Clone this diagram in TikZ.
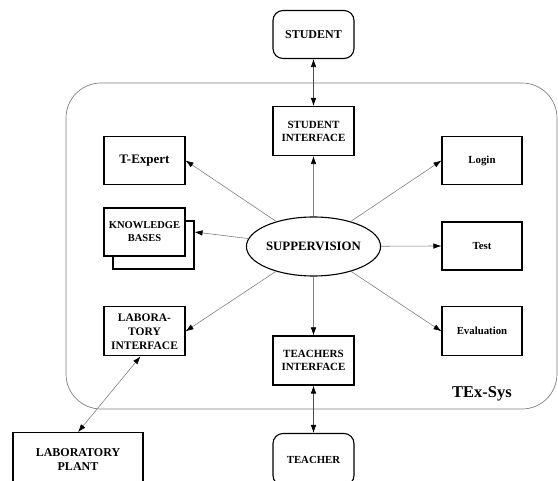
\documentclass[tikz,border=0pt]{standalone}
\usepackage{fontspec}
\setmainfont{Liberation Serif}
\usetikzlibrary{shapes.geometric,arrows.meta,shadows}

\begin{document}
\begin{tikzpicture}[x=1pt,y=-1pt,
    box/.style={draw, line width=1.1pt, fill=white, minimum width=81pt, minimum height=48pt,
        align=center, inner sep=2pt, font=\bfseries\fontsize{11}{13}\selectfont},
    user/.style={box, rounded corners=10pt},
    link/.style={draw=gray, line width=0.6pt, -{Latex[black,length=8pt,width=5.5pt]}},
    io/.style={draw=black!70, line width=0.6pt,
        {Latex[black,length=8pt,width=5.5pt]}-{Latex[black,length=8pt,width=5.5pt]}}]

    \useasboundingbox (0,0) rectangle (558,481);
    \clip (0,0) rectangle (558,481);

    % the system frame
    \draw[gray, line width=0.7pt, rounded corners=35pt] (66,83) rectangle (557,409);
    \node[font=\bfseries\fontsize{16.5}{18}\selectfont] (sys) at (482,393.5) {TEx-Sys};

    % the users outside
    \node[user, font=\bfseries\fontsize{12}{14}\selectfont] (stud) at (313.5,34.5) {STUDENT};
    \node[user, minimum height=52pt, font=\bfseries\fontsize{10.8}{13}\selectfont] (teach) at (313.5,459.5) {TEACHER};
    \node[box, minimum width=130pt, minimum height=54pt, font=\bfseries\fontsize{12}{13.5}\selectfont]
        (plant) at (78,459.7) {LABORATORY\\PLANT};

    % the parts of the system
    \node[box, minimum height=49pt] (studif) at (313.5,131) {STUDENT\\INTERFACE};
    \node[box, minimum height=49pt] (teachif) at (313.5,360.5) {TEACHERS\\INTERFACE};
    \node[box, font=\bfseries\fontsize{13}{15}\selectfont] (texp) at (144.5,160.5) {T-Expert};
    \node[box, font=\bfseries\fontsize{10.5}{13}\selectfont,
        copy shadow={shadow xshift=9pt, shadow yshift=-13pt}] (kb) at (144.5,232) {KNOWLEDGE\\BASES};
    \node[box, minimum height=49pt, font=\bfseries\fontsize{11.5}{14}\selectfont]
        (labif) at (144.5,331.3) {LABORA-\\TORY\\INTERFACE};
    \node[box, minimum width=80pt, font=\bfseries\fontsize{10.8}{13}\selectfont] (login) at (482,160.5) {Login};
    \node[box, minimum width=80pt, font=\bfseries\fontsize{10.8}{13}\selectfont] (test) at (482,246) {Test};
    \node[box, minimum width=80pt, minimum height=49pt, font=\bfseries\fontsize{10.8}{13}\selectfont]
        (eval) at (482,331.3) {Evaluation};

    % the centre
    \node[ellipse, draw, line width=1.1pt, fill=white, minimum width=121pt, minimum height=59pt,
        inner sep=0pt, font=\bfseries\fontsize{12.8}{15}\selectfont] (sup) at (313.5,246.5) {SUPPERVISION};

    % draw the arrows
    \draw[link] (sup) -- (studif.south);
    \draw[link] (sup) -- (teachif.north);
    \draw[link] (sup) -- (texp.east);
    \draw[link] (sup) -- ([xshift=9pt]kb.east);
    \draw[link] (sup) -- (labif.east);
    \draw[link] (sup) -- (login.west);
    \draw[link] (sup) -- (test.west);
    \draw[link] (sup) -- (eval.west);

    \draw[io] (stud.south) -- (studif.north);
    \draw[io] (teachif.south) -- (teach.north);
    \draw[io, draw=gray] ([xshift=-4pt]labif.south) -- (plant.north);
\end{tikzpicture}
\end{document}
